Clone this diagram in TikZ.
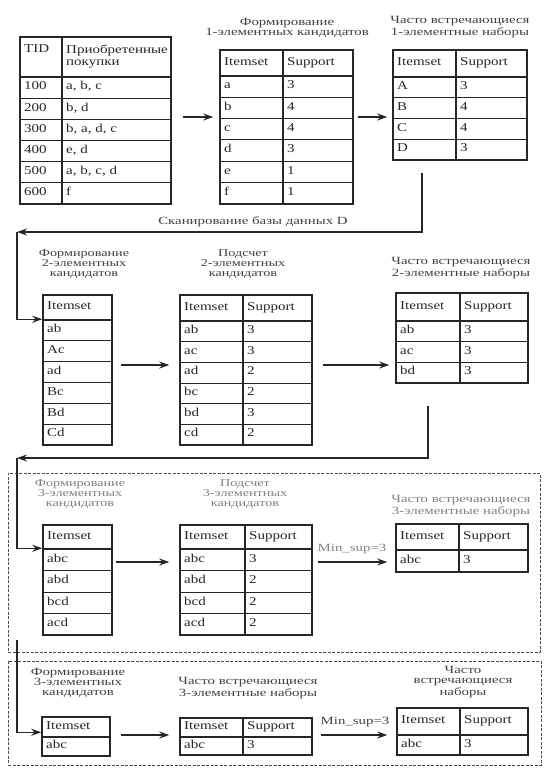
\documentclass[tikz,border=0pt]{standalone}
\usepackage{fontspec}
\setmainfont{Liberation Serif}
\newfontfamily\tabfont[FakeStretch=1.25]{Liberation Serif}
\newfontfamily\lblfont[FakeStretch=1.35]{Liberation Serif}
\usetikzlibrary{arrows.meta,fit}

\tikzset{
 tframe/.style={draw=black!85, line width=1.5pt, inner sep=0pt},
 hsep/.style={draw=black!85, line width=1.3pt},
 vsep/.style={draw=black!85, line width=1.5pt},
 rsep/.style={draw=black!85, line width=1pt},
 cell/.style={inner sep=0pt, font=\tabfont\fontsize{12}{14}\selectfont, text=black!85},
 lbl/.style={inner sep=0pt, align=center, font=\lblfont\fontsize{11}{10}\selectfont, text=black!75},
 lbl3/.style={lbl, font=\lblfont\fontsize{10.5}{9.6}\selectfont},
 lblg/.style={lbl, text=black!50},
 lblg3/.style={lbl3, text=black!50},
 arr/.style={draw=black!85, line width=1.4pt, -{Stealth[length=10pt,width=7pt]}},
 conn/.style={arr},
 dbox/.style={draw=black!70, line width=1pt, dash pattern=on 3pt off 1.5pt, inner sep=0pt},
}

% #1 name, #2 x left, #3 x divider, #4 x right, #5 y top, #6 y header, #7 y bottom, #8 rows, #9 list
\newcommand\tabl[9]{%
  \node[tframe, fit={(#2,#5) (#4,#7)}] (#1) {};
  \draw[hsep] (#2,#6) -- (#4,#6);
  \ifdim #3pt<#4pt \draw[vsep] (#3,#5) -- (#3,#7);\fi
  \pgfmathsetmacro\rh{(#7-#6)/#8}
  \foreach \k in {1,...,#8}{\ifnum\k<#8 \draw[rsep] (#2,{#6+\k*\rh}) -- (#4,{#6+\k*\rh});\fi}
  \foreach \ta/\tb [count=\i] in {#9}{%
    \ifnum\i=1 \pgfmathsetmacro\yy{(#5+#6)/2}\else\pgfmathsetmacro\yy{#6+(\i-1.5)*\rh}\fi
    \node[cell, anchor=mid west] (#1a\i) at (#2+4,\yy) {\ta};
    \ifdim #3pt<#4pt \node[cell, anchor=mid west] (#1b\i) at (#3+4,\yy) {\tb};\fi
  }%
}

\begin{document}
\begin{tikzpicture}[x=1pt,y=-1pt]
\useasboundingbox (0,0) rectangle (554,778);

% dashed frames
\node[dbox, fit={(8,473) (540,652)}] (box1) {};
\node[dbox, fit={(8,661) (541,765)}] (box2) {};

% ---------- row 1 ----------
\tabl{T}{20}{62}{171}{37}{77}{204}{6}{{}/{}, 100/{a, b, c}, 200/{b, d}, 300/{b, a, d, c}, 400/{e, d}, 500/{a, b, c, d}, 600/f}
\node[cell, anchor=mid west] (Th1) at (24,50) {TID};
\node[cell, anchor=north west, align=left, font=\tabfont\fontsize{12}{12}\selectfont] (Th2) at (66,45) {Приобретенные\\покупки};

\tabl{C1}{220}{283}{353}{50}{76}{204}{6}{Itemset/Support, a/3, b/4, c/4, d/3, e/1, f/1}
\tabl{F1}{393}{456}{527}{50}{77}{160}{4}{Itemset/Support, A/3, B/4, C/4, D/3}
\node[lbl] (L1) at (287,27.5) {Формирование\\1-элементных кандидатов};
\node[lbl] (L2) at (460,27) {Часто встречающиеся\\1-элементные наборы};

\coordinate (r1) at (0,117);
\draw[arr, shorten <=11pt, shorten >=6pt] (T.east |- r1) -- (C1.west |- r1);
\draw[arr, shorten <=4pt, shorten >=5pt] (C1.east |- r1) -- (F1.west |- r1);

\coordinate (k1) at (17,232);
\draw[conn, shorten <=12pt] ([xshift=-38pt]F1.south) |- (k1);
\node[lbl] (scan) at (253,222) {Сканирование базы данных D};

% ---------- row 2 ----------
\tabl{C2}{43}{112}{112}{295}{320}{445}{6}{Itemset, ab, Ac, ad, Bc, Bd, Cd}
\tabl{N2}{180}{243}{312}{295}{321}{445}{6}{Itemset/Support, ab/3, ac/3, ad/2, bc/2, bd/3, cd/2}
\tabl{F2}{396}{460}{528}{293}{321}{383}{3}{Itemset/Support, ab/3, ac/3, bd/3}
\node[lbl3] (L3) at (84,264) {Формирование\\2-элементных\\кандидатов};
\node[lbl3] (L4) at (243,264) {Подсчет\\2-элементных\\кандидатов};
\node[lbl] (L5) at (461,268) {Часто встречающиеся\\2-элементные наборы};

\draw[conn] (k1) |- ([yshift=-25pt]C2.north west);
\coordinate (r2) at (0,365);
\draw[arr, shorten <=8pt, shorten >=10pt] (C2.east |- r2) -- (N2.west |- r2);
\draw[arr, shorten <=10pt, shorten >=6pt] (N2.east |- r2) -- (F2.west |- r2);

\coordinate (k2) at (17,458);
\draw[conn, shorten <=22pt] ([xshift=-34pt]F2.south) |- (k2);

% ---------- row 3 ----------
\tabl{C3}{43}{112}{112}{525}{549}{635}{4}{Itemset, abc, abd, bcd, acd}
\tabl{N3}{180}{245}{312}{525}{549}{635}{4}{Itemset/Support, abc/3, abd/2, bcd/2, acd/2}
\tabl{F3}{396}{459}{528}{524}{550}{572}{1}{Itemset/Support, abc/3}
\node[lblg3] (L6) at (80,494) {Формирование\\3-элементных\\кандидатов};
\node[lblg3] (L7) at (245,494) {Подсчет\\3-элементных\\кандидатов};
\node[lblg] (L8) at (461,506) {Часто встречающиеся\\3-элементные наборы};

\draw[conn] (k2) |- ([yshift=-24pt]C3.north west);
\coordinate (r3) at (0,562);
\draw[arr, shorten <=3pt, shorten >=10pt] (C3.east |- r3) -- (N3.west |- r3);
\draw[arr, shorten <=5pt, shorten >=8pt] (N3.east |- r3) -- (F3.west |- r3);
\node[lblg] (M1) at (352,549) {Min\_sup=3};

% ---------- row 4 ----------
\tabl{C4}{42}{110}{110}{717}{737}{756}{1}{Itemset, abc}
\tabl{N4}{180}{243}{312}{718}{737}{755}{1}{Itemset/Support, abc/3}
\tabl{F4}{397}{460}{528}{708}{735}{755}{1}{Itemset/Support, abc/3}
\node[lbl] (L9) at (78,683) {Формирование\\3-элементных\\кандидатов};
\node[lbl] (L10) at (248,688) {Часто встречающиеся\\3-элементные наборы};
\node[lbl] (L11) at (463,682) {Часто\\встречающиеся\\наборы};

\coordinate (k3) at (17,640);
\draw[conn] (k3) |- ([yshift=-16pt]C4.north west);
\coordinate (r4) at (0,735);
\draw[arr, shorten <=10pt, shorten >=10pt] (C4.east |- r4) -- (N4.west |- r4);
\draw[arr, shorten <=8pt, shorten >=9pt] (N4.east |- r4) -- (F4.west |- r4);
\node[lbl] (M2) at (355,722) {Min\_sup=3};
\end{tikzpicture}
\end{document}
